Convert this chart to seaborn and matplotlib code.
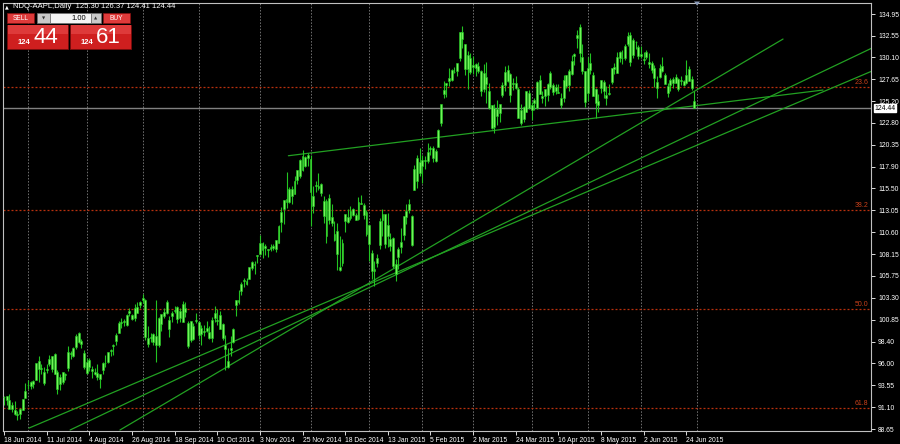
import numpy as np
import pandas as pd
import matplotlib
matplotlib.use("Agg")
import matplotlib.pyplot as plt
import matplotlib.transforms as mtransforms
from matplotlib.patches import Rectangle, Polygon
from matplotlib import font_manager
import seaborn as sns

# ---------------- data (daily OHLC, 18 Jun 2014 .. 29 Jun 2015) ----------------
opens = [
    92.27, 92.29, 91.85, 91.32, 90.75, 90.21, 90.37, 90.82, 92.10,
    93.52, 93.87, 93.67, 94.14, 96.27, 95.44, 93.76, 95.36, 95.86, 96.80, 96.97, 95.03, 93.62, 94.99, 94.68, 95.42, 97.04, 96.85, 97.82, 99.33, 98.44, 97.16,
    94.90, 96.37, 95.36, 94.75, 94.93, 94.26, 95.27, 96.04, 96.15, 97.33, 97.90, 98.49, 99.41, 100.44, 100.57, 100.29, 101.79, 101.42, 101.02, 101.59, 102.86,
    103.06, 103.10, 98.85, 98.80, 99.30, 99.08, 98.01, 100.41, 101.21, 102.81, 99.80, 101.27, 101.93, 102.29, 101.80, 100.60, 102.16, 100.51, 98.53, 98.65, 100.81,
    100.59, 99.27, 99.44, 99.95, 99.43, 98.76, 101.54, 100.69, 101.33, 100.39, 97.97, 95.55, 97.50, 98.32, 103.02, 102.84, 104.08, 105.18, 104.85, 105.40, 106.65, 106.96, 108.01,
    108.22, 109.36, 109.10, 108.60, 108.75, 109.02, 108.70, 109.38, 111.80, 113.15, 114.27, 113.94, 115.44, 114.91, 117.51, 116.85, 119.07, 117.94, 119.27,
    118.81, 113.50, 115.75, 115.77, 115.99, 114.10, 110.19, 114.41, 112.26, 110.46, 110.70, 106.37, 107.12, 111.87, 112.26, 112.16, 113.23, 112.58, 112.10, 113.79, 113.64, 112.82,
    111.39, 108.29, 106.54, 107.20, 109.23, 112.67, 112.60, 111.43, 109.04, 110.00, 107.03, 107.84, 108.95, 110.26, 112.30, 113.74, 112.42, 117.63, 116.32, 118.40,
    118.05, 118.50, 118.50, 120.02, 120.02, 118.55, 120.17, 122.77, 126.06, 127.28, 127.49, 127.62, 128.48, 128.62, 130.02, 132.94, 131.56, 128.79, 130.00,
    129.25, 128.96, 129.10, 128.58, 128.40, 127.96, 126.41, 124.75, 122.31, 124.40, 123.88, 125.90, 127.00, 128.75, 128.25, 127.12, 127.23, 126.54, 122.76, 124.57, 124.05, 126.09,
    124.82, 125.03, 124.47, 127.64, 125.85, 125.85, 125.95, 128.37, 127.00, 126.41, 126.28, 125.55, 125.57, 128.10, 126.99, 128.30, 130.49, 132.31, 133.50, 130.16, 128.64,
    126.10, 129.50, 128.15, 126.56, 124.77, 126.68, 127.39, 125.60, 126.15, 127.41, 129.07, 128.38, 130.69, 130.00, 130.07, 131.60, 132.60, 130.34, 131.86, 131.23,
    130.28, 129.86, 130.66, 129.58, 129.50, 128.90, 126.70, 127.92, 129.18, 128.19, 126.10, 127.03, 127.72, 127.23, 127.71, 127.49, 127.48, 127.21, 128.86, 127.67, 125.30,
]
highs = [
    92.29, 92.30, 92.55, 91.62, 91.74, 90.70, 91.05, 92.00, 93.73,
    94.07, 94.06, 94.10, 95.99, 96.80, 95.95, 95.55, 95.89, 96.89, 96.85, 97.10, 95.28, 94.74, 95.00, 94.89, 97.88, 97.32, 97.84, 99.24, 99.44, 98.70, 97.45,
    96.62, 96.58, 95.68, 95.48, 95.95, 94.82, 96.08, 96.88, 97.24, 97.57, 98.19, 99.37, 100.68, 101.09, 100.94, 101.47, 102.17, 101.50, 102.57, 102.78, 102.90,
    103.74, 103.20, 100.09, 99.39, 99.31, 103.08, 101.11, 101.44, 102.19, 103.05, 101.26, 101.80, 102.35, 102.35, 102.14, 102.94, 102.85, 100.71, 100.75, 100.44, 101.54,
    100.69, 100.22, 100.21, 100.65, 100.12, 101.11, 102.38, 102.03, 101.78, 100.52, 99.15, 97.72, 99.00, 99.96, 103.02, 104.11, 105.05, 105.49, 105.48, 106.74, 107.37, 107.35, 108.04,
    110.30, 109.49, 109.30, 108.79, 109.32, 109.33, 109.75, 111.43, 113.45, 114.19, 117.28, 115.69, 115.74, 116.86, 117.57, 118.77, 119.75, 119.10, 119.40,
    119.25, 115.75, 116.35, 117.20, 116.08, 114.65, 114.30, 114.85, 113.80, 111.87, 111.60, 110.16, 109.84, 112.65, 113.24, 113.49, 113.33, 112.71, 114.52, 114.77, 113.92, 113.13,
    111.44, 108.65, 107.43, 108.20, 112.15, 113.25, 112.63, 112.80, 110.49, 110.06, 107.58, 108.97, 111.06, 112.47, 113.75, 114.36, 112.48, 118.12, 119.19, 120.00,
    119.17, 119.09, 120.51, 120.23, 120.25, 119.84, 122.15, 124.92, 127.48, 127.28, 128.88, 128.78, 129.03, 129.50, 133.00, 133.60, 131.60, 130.87, 130.57,
    130.28, 129.52, 129.56, 128.75, 129.37, 129.57, 127.22, 124.77, 124.90, 125.40, 124.95, 127.32, 129.16, 129.25, 128.40, 127.85, 128.04, 126.82, 124.88, 124.70, 126.40, 126.49,
    125.12, 125.56, 127.51, 128.12, 126.40, 126.58, 127.21, 128.57, 127.29, 127.13, 127.10, 126.14, 128.12, 128.20, 128.87, 130.42, 130.63, 133.13, 133.80, 131.59, 128.64,
    130.13, 130.57, 128.45, 126.75, 126.08, 127.62, 127.56, 126.88, 127.19, 128.95, 129.49, 130.72, 130.88, 130.98, 131.63, 132.97, 132.91, 132.26, 131.95, 131.45,
    131.39, 130.66, 130.94, 130.58, 129.69, 129.21, 128.08, 129.34, 130.18, 128.33, 127.24, 127.85, 127.88, 128.31, 127.82, 128.06, 127.61, 129.80, 129.20, 127.99, 126.37,
]
lows = [
    91.35, 91.34, 90.90, 90.60, 90.19, 89.65, 89.80, 90.77, 92.09,
    93.13, 93.09, 93.20, 94.10, 93.92, 94.76, 93.52, 94.86, 95.65, 95.03, 94.74, 92.57, 93.02, 93.72, 94.12, 95.17, 96.42, 96.64, 97.55, 98.25, 97.67, 95.33,
    94.81, 95.17, 94.36, 94.71, 94.10, 93.28, 94.84, 95.61, 96.04, 96.80, 96.86, 97.98, 99.32, 99.95, 100.11, 100.19, 101.28, 100.86, 100.70, 101.56, 102.20,
    102.72, 98.58, 97.79, 98.31, 98.05, 96.14, 97.76, 99.62, 101.08, 101.44, 98.89, 100.59, 101.56, 100.50, 100.58, 100.54, 101.20, 97.72, 98.40, 98.63, 100.53,
    98.70, 98.04, 99.04, 99.42, 98.73, 98.31, 100.61, 100.30, 99.81, 98.57, 95.18, 95.41, 96.81, 98.22, 101.27, 102.60, 103.63, 104.53, 104.70, 105.35, 106.36, 105.90, 107.21,
    108.01, 107.72, 108.12, 107.80, 108.55, 108.67, 108.40, 109.37, 110.60, 111.56, 113.30, 113.89, 113.80, 114.85, 116.03, 116.62, 117.45, 117.83, 118.05,
    111.27, 112.75, 115.11, 115.29, 114.64, 111.62, 109.35, 111.54, 111.34, 109.58, 106.35, 106.26, 106.82, 110.66, 111.66, 111.97, 112.46, 112.01, 112.01, 113.70, 112.11, 110.21,
    107.35, 105.41, 104.63, 106.70, 108.70, 110.21, 108.80, 108.91, 108.50, 106.66, 105.20, 106.50, 108.27, 109.72, 111.53, 112.80, 109.03, 115.31, 115.56, 116.85,
    116.08, 117.61, 118.31, 119.25, 118.45, 118.43, 120.16, 122.50, 125.57, 125.65, 126.92, 127.45, 128.33, 128.05, 129.66, 131.17, 128.15, 126.61, 128.24,
    128.30, 128.09, 128.32, 125.76, 126.26, 125.06, 124.32, 122.11, 121.63, 122.58, 122.87, 125.65, 126.37, 127.40, 125.16, 126.52, 126.56, 123.38, 122.60, 122.91, 124.00, 124.36,
    123.10, 124.19, 124.33, 125.98, 124.97, 124.66, 125.26, 126.61, 125.91, 126.01, 126.11, 124.46, 125.17, 126.67, 126.32, 128.14, 129.23, 131.15, 129.57, 128.30, 124.58,
    125.30, 128.26, 125.78, 123.36, 124.02, 126.11, 125.63, 124.82, 125.87, 127.16, 128.21, 128.36, 129.64, 129.34, 129.83, 131.40, 129.12, 130.05, 131.10, 129.90,
    130.05, 129.32, 129.90, 128.91, 128.36, 126.83, 125.62, 127.85, 128.48, 127.11, 125.71, 126.37, 126.74, 127.22, 126.40, 127.08, 126.88, 127.12, 127.50, 126.51, 124.41,
]
closes = [
    92.18, 91.86, 90.91, 90.83, 90.28, 90.36, 90.90, 91.98, 92.93,
    93.52, 93.48, 94.03, 95.97, 95.35, 95.39, 95.04, 95.22, 96.45, 95.32, 94.78, 93.09, 94.43, 93.94, 94.72, 97.19, 97.03, 97.67, 99.02, 98.38, 98.15, 95.60,
    96.13, 95.59, 95.12, 94.96, 94.48, 94.74, 95.99, 95.97, 97.24, 97.50, 97.98, 99.16, 100.53, 100.57, 100.58, 101.32, 101.54, 100.89, 102.13, 102.25, 102.50,
    103.30, 98.94, 98.12, 98.97, 98.36, 97.99, 101.00, 101.43, 101.66, 101.63, 100.86, 101.58, 101.79, 100.96, 101.06, 102.64, 101.75, 97.87, 100.75, 100.11, 100.75,
    99.18, 99.90, 99.62, 99.62, 98.75, 100.80, 101.02, 100.73, 99.81, 98.75, 97.54, 96.26, 97.67, 99.76, 102.47, 102.99, 104.83, 105.22, 105.11, 106.74, 107.34, 106.98, 108.00,
    109.40, 108.60, 108.86, 108.70, 109.01, 108.83, 109.70, 111.25, 112.82, 114.18, 113.99, 115.47, 114.67, 116.31, 116.47, 118.63, 117.60, 119.00, 118.93,
    115.07, 114.63, 115.93, 115.49, 115.00, 112.40, 114.12, 111.95, 111.62, 109.73, 108.23, 106.75, 109.41, 112.65, 111.78, 112.94, 112.54, 112.01, 113.99, 113.91, 112.52, 110.38,
    109.33, 106.25, 106.26, 107.75, 111.89, 112.01, 109.25, 110.22, 109.80, 106.82, 105.99, 108.72, 109.55, 112.40, 112.98, 113.10, 109.14, 115.31, 118.90, 117.16,
    118.63, 118.65, 119.56, 119.94, 118.93, 119.72, 122.02, 124.88, 126.46, 127.08, 127.83, 128.72, 128.45, 129.50, 133.00, 132.17, 128.79, 130.42, 128.46,
    129.09, 129.36, 128.54, 126.41, 126.60, 127.14, 124.51, 122.24, 124.45, 123.59, 124.95, 127.04, 128.47, 127.50, 125.90, 127.21, 126.69, 123.38, 124.24, 123.25, 126.37, 124.43,
    124.25, 125.32, 127.35, 126.01, 125.60, 126.56, 127.10, 126.85, 126.30, 126.78, 126.17, 124.75, 127.60, 126.91, 128.62, 129.67, 130.28, 132.65, 130.56, 128.64, 125.15,
    128.95, 128.70, 125.80, 125.01, 125.26, 127.62, 126.32, 125.87, 126.01, 128.95, 128.77, 130.19, 130.07, 130.06, 131.39, 132.54, 129.62, 132.05, 131.78, 130.28,
    130.54, 129.96, 130.12, 129.36, 128.65, 127.80, 127.42, 128.88, 128.59, 127.17, 126.92, 127.60, 127.30, 127.88, 126.60, 127.61, 127.03, 128.11, 127.50, 126.75, 124.44,
]

date_tick_pos = [0, 16, 32, 48, 64, 80, 96, 112, 128, 144, 160, 176, 192, 208, 224, 240, 256]
date_tick_labels = ["18 Jun 2014", "11 Jul 2014", "4 Aug 2014", "26 Aug 2014", "18 Sep 2014",
                    "10 Oct 2014", "3 Nov 2014", "25 Nov 2014", "18 Dec 2014", "13 Jan 2015",
                    "5 Feb 2015", "2 Mar 2015", "24 Mar 2015", "16 Apr 2015", "8 May 2015",
                    "2 Jun 2015", "24 Jun 2015"]
month_starts = [9, 31, 52, 73, 96, 115, 137, 157, 176, 198, 219, 239, 260]
price_ticks = [134.95, 132.55, 130.10, 127.65, 125.20, 122.80, 120.35, 117.90, 115.50, 113.05,
               110.60, 108.15, 105.75, 103.30, 100.85, 98.40, 96.00, 93.55, 91.10, 88.65]
fib_levels = [126.84, 113.08, 102.00, 90.96]
fib_labels = ["23.6", "38.2", "50.0", "61.8"]
bid_price = 124.44
trend_x0 = [106.7, 43.5, 24.8, 9.4]
trend_y0 = [119.14, 88.54, 88.54, 88.76]
trend_x1 = [307.3, 292.3, 325.7, 325.7]
trend_y1 = [126.47, 132.16, 131.16, 128.59]

# ---------------- style ----------------
sns.set_theme(style="dark", rc={
    "axes.facecolor": "black", "figure.facecolor": "black",
    "axes.edgecolor": "#c0c0c0", "text.color": "white",
    "xtick.color": "white", "ytick.color": "white",
})
plt.rcParams["font.family"] = ["Liberation Sans", "DejaVu Sans"]

installed = {f.name for f in font_manager.fontManager.ttflist}
narrow = "Liberation Sans Narrow" if "Liberation Sans Narrow" in installed else "Liberation Sans"
tick_size = 5.6 if narrow == "Liberation Sans Narrow" else 4.9

df = pd.DataFrame({"o": opens, "h": highs, "l": lows, "c": closes})
df["i"] = np.arange(len(df))

fig = plt.figure(figsize=(9, 4.44), dpi=100, facecolor="black")
ax = fig.add_axes([3 / 900, 13 / 444, 868 / 900, 428 / 444])
ax.set_facecolor("black")
ax.set_xlim(-0.375, 325.3)
ax.set_ylim(88.43, 136.18)

# grid (month separators)
ax.vlines(month_starts, 88.43, 136.18, colors="#6e6e6e", linestyles=(0, (1.6, 1.6)),
          linewidth=0.7, zorder=1)

# fibonacci levels
blend = mtransforms.blended_transform_factory(ax.transAxes, ax.transData)
for lv, lb in zip(fib_levels, fib_labels):
    ax.axhline(lv, color="#b8300e", linestyle=(0, (1.6, 1.6)), linewidth=0.9, zorder=1)
    ax.text(0.997, lv + 0.1, lb, transform=blend, ha="right", va="bottom",
            color="#c8401a", fontsize=5, family=[narrow, "DejaVu Sans"])

# bid line
ax.axhline(bid_price, color="#808080", linewidth=1.0, zorder=1)

# trend lines (seaborn)
tl = pd.DataFrame({
    "x": trend_x0 + trend_x1,
    "y": trend_y0 + trend_y1,
    "line": list(range(4)) + list(range(4)),
})
sns.lineplot(data=tl, x="x", y="y", units="line", estimator=None, sort=False,
             color="#22a022", linewidth=0.9, ax=ax, zorder=2, legend=False)

# candles
ax.vlines(df["i"], df["l"], df["h"], colors="#22c322", linewidth=0.8, zorder=3)
body_lo = np.minimum(df["o"], df["c"])
body_h = np.maximum(np.abs(df["c"] - df["o"]), 0.08)
ax.bar(df["i"], body_h, bottom=body_lo, width=0.72, color="#72f45a",
       edgecolor="#1ec81e", linewidth=0.4, zorder=4)

# axes cosmetics
ax.set_xlabel("")
ax.set_ylabel("")
ax.grid(False)
for s in ax.spines.values():
    s.set_color("#c0c0c0")
    s.set_linewidth(0.8)
ax.yaxis.tick_right()
ax.set_yticks(price_ticks)
ax.set_yticklabels([f"{p:.2f}" for p in price_ticks], family=[narrow, "DejaVu Sans"])
ax.set_xticks(date_tick_pos)
ax.set_xticklabels(date_tick_labels, ha="left", family=[narrow, "DejaVu Sans"])
ax.tick_params(axis="y", which="both", right=True, left=False, length=3, width=0.6,
               labelsize=tick_size, pad=2, colors="white")
ax.tick_params(axis="x", which="both", bottom=True, length=3, width=0.6,
               labelsize=tick_size, pad=1.5, colors="white")

# current price box
ax.text(1.004, bid_price, "124.44", transform=blend, ha="left", va="center",
        fontsize=tick_size, color="black", family=[narrow, "DejaVu Sans"],
        bbox=dict(boxstyle="square,pad=0.08", facecolor="white", edgecolor="white"))

# ---------------- overlay (header + trading panel) ----------------
ov = fig.add_axes([0, 0, 1, 1])
ov.set_xlim(0, 900)
ov.set_ylim(444, 0)
ov.axis("off")
ov.patch.set_alpha(0)

ov.text(5, 7, "\u25b2", fontsize=3.5, color="white", va="center", family=["DejaVu Sans"])
ov.text(13, 7, "NDQ-AAPL,Daily  125.30 126.37 124.41 124.44", fontsize=5.5,
        color="white", va="center")

red = "#cf1f1f"
red_top = "#de3a3a"
ov.add_patch(Rectangle((7, 13), 27, 10, facecolor=red_top, edgecolor="#8a1010", lw=0.5))
ov.text(20.5, 18.3, "SELL", fontsize=4.8, color="white", ha="center", va="center")
ov.add_patch(Rectangle((103, 13), 27, 10, facecolor=red_top, edgecolor="#8a1010", lw=0.5))
ov.text(116.5, 18.3, "BUY", fontsize=4.8, color="white", ha="center", va="center")
ov.add_patch(Rectangle((37, 13), 13, 10, facecolor="#c9c9c9", edgecolor="#707070", lw=0.5))
ov.add_patch(Rectangle((50, 13), 41, 10, facecolor="#f5f5f5", edgecolor="#707070", lw=0.5))
ov.add_patch(Rectangle((91, 13), 10, 10, facecolor="#c9c9c9", edgecolor="#707070", lw=0.5))
ov.text(43.5, 18.3, "\u25bc", fontsize=3, color="#333333", ha="center", va="center", family=["DejaVu Sans"])
ov.text(96, 18.3, "\u25b2", fontsize=3, color="#333333", ha="center", va="center", family=["DejaVu Sans"])
ov.text(86, 18.3, "1.00", fontsize=5.5, color="black", ha="right", va="center")

for x0, small, big in [(7, "124", "44"), (70, "124", "61")]:
    ov.add_patch(Rectangle((x0, 25), 61, 24, facecolor=red, edgecolor="#7a0c0c", lw=0.6))
    ov.add_patch(Rectangle((x0 + 0.5, 25.5), 60, 9, facecolor=red_top, edgecolor="none"))
    ov.text(x0 + 11, 43, small, fontsize=5.5, color="white", ha="left", va="center",
            fontweight="bold")
    ov.text(x0 + 26, 37.5, big, fontsize=16, color="white", ha="left", va="center")

# chart shift marker
ov.add_patch(Polygon([(694, 1.5), (700, 1.5), (697, 5.5)], closed=True,
                     facecolor="#8a9ab8", edgecolor="none"))

fig.savefig("out.png", dpi=100, facecolor="black")
